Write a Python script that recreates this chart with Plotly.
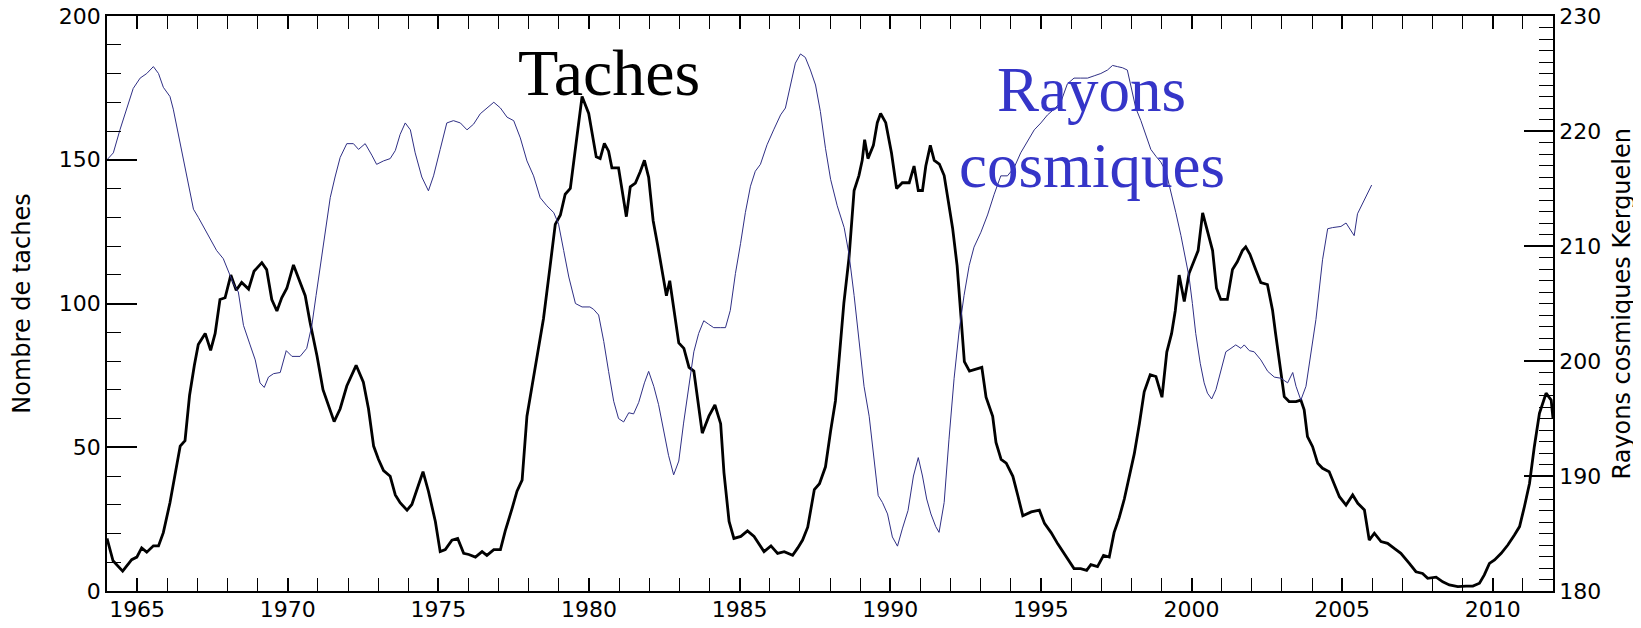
"""
plot.py - Taches solaires et rayons cosmiques (Kerguelen), 1964-2012.
"""

import plotly.graph_objects as go

# Nombre de taches (courbe noire, axe gauche)
annees_taches = [
    1964.00, 1964.20, 1964.52, 1964.82, 1964.99, 1965.15, 1965.32, 1965.54, 1965.71, 1965.87,
    1966.09, 1966.23, 1966.43, 1966.59, 1966.74, 1966.90, 1967.03, 1967.26, 1967.44, 1967.59,
    1967.75, 1967.92, 1968.11, 1968.29, 1968.47, 1968.70, 1968.88, 1969.14, 1969.30, 1969.47,
    1969.64, 1969.80, 1969.97, 1970.19, 1970.39, 1970.58, 1970.74, 1970.97, 1971.17, 1971.35,
    1971.54, 1971.74, 1971.96, 1972.27, 1972.51, 1972.68, 1972.85, 1973.01, 1973.18, 1973.40,
    1973.57, 1973.73, 1973.96, 1974.12, 1974.34, 1974.49, 1974.67, 1974.90, 1975.06, 1975.23,
    1975.45, 1975.64, 1975.84, 1976.01, 1976.23, 1976.45, 1976.61, 1976.84, 1977.06, 1977.22,
    1977.45, 1977.61, 1977.78, 1977.94, 1978.11, 1978.27, 1978.49, 1978.71, 1978.88, 1979.05,
    1979.21, 1979.38, 1979.54, 1979.77, 1979.99, 1980.24, 1980.37, 1980.51, 1980.65, 1980.76,
    1980.98, 1981.09, 1981.24, 1981.37, 1981.54, 1981.70, 1981.84, 1981.98, 1982.13, 1982.28,
    1982.43, 1982.57, 1982.68, 1982.82, 1982.98, 1983.15, 1983.32, 1983.48, 1983.65, 1983.76,
    1983.98, 1984.18, 1984.37, 1984.48, 1984.65, 1984.81, 1985.04, 1985.26, 1985.48, 1985.65,
    1985.81, 1986.04, 1986.26, 1986.48, 1986.76, 1986.93, 1987.09, 1987.26, 1987.48, 1987.65,
    1987.85, 1988.02, 1988.18, 1988.29, 1988.46, 1988.63, 1988.80, 1988.96, 1989.07, 1989.15,
    1989.26, 1989.44, 1989.57, 1989.68, 1989.85, 1990.04, 1990.21, 1990.40, 1990.63, 1990.79,
    1990.93, 1991.07, 1991.18, 1991.33, 1991.46, 1991.63, 1991.79, 1991.93, 1992.07, 1992.22,
    1992.35, 1992.46, 1992.63, 1992.85, 1993.04, 1993.18, 1993.40, 1993.51, 1993.68, 1993.85,
    1994.07, 1994.23, 1994.40, 1994.68, 1994.95, 1995.12, 1995.34, 1995.56, 1995.78, 1995.98,
    1996.10, 1996.32, 1996.52, 1996.66, 1996.88, 1997.08, 1997.27, 1997.43, 1997.60, 1997.77,
    1997.93, 1998.10, 1998.27, 1998.43, 1998.63, 1998.82, 1999.02, 1999.18, 1999.34, 1999.46,
    1999.59, 1999.76, 1999.92, 2000.09, 2000.22, 2000.37, 2000.53, 2000.70, 2000.83, 2000.97,
    2001.19, 2001.36, 2001.52, 2001.69, 2001.80, 2001.94, 2002.13, 2002.30, 2002.52, 2002.69,
    2002.79, 2002.91, 2003.08, 2003.24, 2003.47, 2003.63, 2003.74, 2003.85, 2004.02, 2004.19,
    2004.35, 2004.57, 2004.68, 2004.91, 2005.13, 2005.35, 2005.52, 2005.74, 2005.90, 2006.07,
    2006.29, 2006.51, 2006.73, 2006.95, 2007.23, 2007.45, 2007.67, 2007.84, 2008.12, 2008.34,
    2008.56, 2008.84, 2009.11, 2009.34, 2009.56, 2009.72, 2009.89, 2010.06, 2010.28, 2010.50,
    2010.72, 2010.89, 2011.05, 2011.22, 2011.38, 2011.55, 2011.77, 2011.94, 2012.00,
]
taches = [
    18.3, 10.5, 6.9, 10.9, 11.8, 15.0, 13.5, 15.7, 15.7, 20.3,
    30.7, 39.2, 50.4, 52.3, 68.0, 78.5, 85.7, 89.6, 83.7, 89.6,
    101.4, 102.0, 109.9, 104.6, 107.3, 105.0, 111.2, 114.2, 111.8, 101.4,
    97.4, 102.0, 105.3, 113.4, 107.9, 102.7, 93.5, 81.8, 70.0, 64.7,
    58.9, 63.4, 71.3, 78.5, 72.6, 63.4, 50.4, 45.8, 41.9, 39.9,
    33.4, 30.7, 28.1, 30.1, 36.6, 41.5, 34.7, 24.2, 13.7, 14.4,
    17.7, 18.3, 13.1, 12.7, 11.8, 13.7, 12.4, 14.4, 14.4, 20.9,
    28.8, 34.7, 38.6, 60.8, 71.3, 81.8, 94.8, 113.1, 127.5, 130.8,
    138.0, 140.0, 153.7, 172.0, 166.1, 151.0, 150.4, 155.7, 153.0, 147.2,
    147.2, 139.3, 130.2, 140.6, 141.9, 145.8, 149.8, 143.9, 128.8, 120.3,
    111.8, 102.7, 107.9, 97.4, 86.3, 84.4, 77.8, 76.5, 63.4, 54.9,
    60.8, 64.7, 58.2, 41.2, 24.2, 18.3, 19.0, 20.9, 19.0, 16.4,
    13.7, 15.7, 13.1, 13.7, 12.4, 15.0, 17.7, 22.2, 35.3, 37.3,
    43.2, 55.6, 66.1, 79.1, 100.1, 115.8, 139.3, 144.5, 149.8, 157.0,
    150.4, 155.0, 162.9, 166.1, 162.9, 152.4, 140.0, 142.0, 142.0, 147.8,
    139.3, 139.3, 147.8, 155.0, 149.8, 148.5, 144.5, 135.4, 126.2, 113.1,
    94.8, 79.8, 76.5, 77.2, 77.8, 67.4, 60.8, 51.7, 45.8, 44.5,
    39.9, 33.4, 26.2, 27.5, 28.1, 23.5, 20.3, 16.4, 13.0, 9.5,
    7.8, 7.8, 7.2, 9.2, 8.5, 12.4, 11.8, 20.3, 25.5, 32.0,
    39.9, 47.7, 58.2, 69.3, 75.2, 74.6, 67.4, 83.1, 89.6, 97.4,
    109.9, 100.7, 110.5, 115.1, 118.4, 131.5, 125.6, 118.4, 105.3, 101.4,
    101.4, 111.8, 114.5, 118.4, 119.7, 117.1, 111.8, 107.3, 106.6, 97.7,
    89.6, 80.3, 67.6, 65.9, 65.9, 66.4, 63.0, 53.7, 50.2, 44.4,
    42.7, 41.5, 38.6, 32.8, 29.9, 33.4, 30.5, 28.2, 17.7, 20.1,
    17.2, 16.6, 14.8, 13.1, 9.6, 6.7, 6.1, 4.4, 4.8, 3.2,
    2.1, 1.5, 1.7, 1.7, 2.7, 5.6, 9.6, 10.8, 13.1, 16.0,
    19.5, 22.4, 29.3, 37.4, 50.2, 61.8, 68.8, 66.4, 60.0,
]

# Rayons cosmiques Kerguelen (courbe bleue, axe droit)
annees_rayons = [
    1964.00, 1964.21, 1964.43, 1964.65, 1964.87, 1965.10, 1965.32, 1965.54, 1965.71, 1965.87,
    1966.09, 1966.20, 1966.37, 1966.54, 1966.70, 1966.87, 1967.03, 1967.20, 1967.42, 1967.64,
    1967.86, 1968.03, 1968.20, 1968.36, 1968.53, 1968.75, 1968.92, 1969.08, 1969.22, 1969.36,
    1969.53, 1969.75, 1969.95, 1970.14, 1970.41, 1970.63, 1970.80, 1970.94, 1971.08, 1971.24,
    1971.41, 1971.57, 1971.74, 1971.96, 1972.18, 1972.35, 1972.57, 1972.79, 1972.95, 1973.18,
    1973.40, 1973.57, 1973.73, 1973.90, 1974.07, 1974.23, 1974.45, 1974.67, 1974.84, 1975.06,
    1975.28, 1975.50, 1975.73, 1975.95, 1976.17, 1976.39, 1976.61, 1976.84, 1977.06, 1977.28,
    1977.50, 1977.72, 1977.94, 1978.16, 1978.38, 1978.60, 1978.83, 1978.99, 1979.16, 1979.33,
    1979.55, 1979.77, 1980.03, 1980.15, 1980.32, 1980.49, 1980.65, 1980.82, 1980.98, 1981.15,
    1981.32, 1981.48, 1981.65, 1981.84, 1981.98, 1982.15, 1982.31, 1982.48, 1982.64, 1982.81,
    1982.98, 1983.14, 1983.31, 1983.48, 1983.64, 1983.81, 1983.97, 1984.14, 1984.36, 1984.53,
    1984.69, 1984.86, 1985.03, 1985.19, 1985.36, 1985.52, 1985.69, 1985.91, 1986.13, 1986.36,
    1986.52, 1986.69, 1986.85, 1987.02, 1987.18, 1987.35, 1987.52, 1987.68, 1987.85, 1988.02,
    1988.24, 1988.47, 1988.63, 1988.80, 1988.96, 1989.13, 1989.30, 1989.46, 1989.60, 1989.74,
    1989.91, 1990.07, 1990.24, 1990.40, 1990.59, 1990.77, 1990.93, 1991.07, 1991.21, 1991.35,
    1991.51, 1991.62, 1991.79, 1991.95, 1992.12, 1992.29, 1992.45, 1992.62, 1992.78, 1993.01,
    1993.23, 1993.45, 1993.67, 1993.89, 1994.11, 1994.33, 1994.56, 1994.78, 1995.00, 1995.22,
    1995.44, 1995.66, 1995.88, 1996.10, 1996.32, 1996.55, 1996.77, 1996.99, 1997.21, 1997.38,
    1997.54, 1997.71, 1997.87, 1997.99, 1998.15, 1998.32, 1998.48, 1998.65, 1998.82, 1998.98,
    1999.15, 1999.31, 1999.48, 1999.65, 1999.78, 1999.92, 2000.03, 2000.14, 2000.29, 2000.42,
    2000.53, 2000.67, 2000.81, 2000.98, 2001.14, 2001.31, 2001.47, 2001.64, 2001.75, 2001.92,
    2002.08, 2002.30, 2002.53, 2002.75, 2002.97, 2003.19, 2003.36, 2003.47, 2003.63, 2003.80,
    2003.95, 2004.13, 2004.35, 2004.52, 2004.68, 2004.96, 2005.13, 2005.29, 2005.40, 2005.51,
    2005.68, 2005.85, 2005.98,
]
rayons = [
    217.5, 218.1, 220.1, 221.9, 223.7, 224.6, 225.0, 225.6, 225.0, 223.8,
    223.0, 221.9, 219.7, 217.4, 215.2, 213.2, 212.5, 211.7, 210.6, 209.6,
    208.9, 207.8, 206.7, 206.0, 203.1, 201.4, 200.1, 198.1, 197.7, 198.6,
    198.9, 199.0, 200.9, 200.4, 200.4, 201.1, 203.1, 205.7, 208.3, 211.2,
    214.2, 216.0, 217.7, 218.9, 218.9, 218.4, 218.9, 217.9, 217.1, 217.4,
    217.6, 218.3, 219.7, 220.7, 220.1, 218.1, 216.0, 214.8, 216.1, 218.4,
    220.7, 220.9, 220.7, 220.1, 220.6, 221.5, 222.0, 222.5, 222.0, 221.2,
    220.9, 219.4, 217.4, 216.1, 214.2, 213.5, 212.9, 211.9, 209.6, 207.3,
    205.0, 204.7, 204.7, 204.5, 204.0, 201.7, 199.1, 196.5, 195.0, 194.7,
    195.5, 195.4, 196.4, 198.1, 199.1, 197.8, 196.2, 193.9, 191.8, 190.1,
    191.3, 194.6, 197.8, 200.8, 202.4, 203.5, 203.2, 202.9, 202.9, 202.9,
    204.4, 207.6, 210.2, 212.9, 215.2, 216.5, 217.1, 218.8, 220.1, 221.4,
    222.0, 224.0, 225.9, 226.7, 226.4, 225.3, 224.0, 221.7, 218.5, 215.8,
    213.5, 211.6, 209.3, 205.7, 201.7, 197.8, 195.2, 191.3, 188.3, 187.7,
    186.7, 184.7, 183.9, 185.4, 187.0, 190.0, 191.6, 190.0, 188.0, 186.7,
    185.6, 185.1, 187.7, 193.2, 198.5, 202.7, 205.7, 208.3, 209.9, 211.2,
    212.7, 214.5, 216.1, 216.1, 216.8, 218.1, 219.1, 220.1, 220.7, 221.4,
    221.9, 222.5, 224.1, 224.6, 224.6, 224.6, 224.8, 225.0, 225.3, 225.7,
    225.6, 225.5, 225.3, 224.0, 222.0, 220.9, 219.7, 218.4, 217.8, 217.3,
    216.5, 214.8, 212.9, 210.9, 209.3, 207.3, 205.0, 202.4, 199.8, 198.1,
    197.2, 196.7, 197.5, 199.1, 200.8, 201.1, 201.4, 201.1, 201.4, 200.9,
    200.8, 200.1, 199.1, 198.6, 198.5, 198.1, 199.0, 197.8, 196.6, 197.8,
    200.5, 203.6, 208.8, 211.5, 211.6, 211.7, 212.0, 211.4, 210.9, 212.8,
    213.7, 214.6, 215.3,
]

annees_ticks = [1965, 1970, 1975, 1980, 1985, 1990, 1995, 2000, 2005, 2010]

POLICE_AXE = "DejaVu Sans"
POLICE_TEXTE = "Liberation Serif"
BLEU_TEXTE = "#3535c8"
BLEU_LIGNE = "#2f2f85"

fig = go.Figure()
fig.add_trace(go.Scatter(
    x=annees_rayons, y=rayons, mode="lines", yaxis="y2",
    line=dict(color=BLEU_LIGNE, width=1), name="Rayons cosmiques",
))
fig.add_trace(go.Scatter(
    x=annees_taches, y=taches, mode="lines",
    line=dict(color="black", width=2.8), name="Taches",
))

# étiquettes des courbes, centrées (sinon plotly ancre à droite/en haut)
for texte, px_x, px_y, taille, couleur in [
    ("Taches", 0.3475, 0.901, 66, "black"),
    ("Rayons", 0.681, 0.871, 63, BLEU_TEXTE),
    ("cosmiques", 0.681, 0.740, 63, BLEU_TEXTE),
]:
    fig.add_annotation(text=texte, x=px_x, y=px_y, xref="paper", yref="paper",
                       xanchor="center", yanchor="middle", showarrow=False,
                       font=dict(family=POLICE_TEXTE, size=taille, color=couleur))

# titre de l'axe droit en annotation (le standoff ne se règle pas bien sans automargin)
fig.add_annotation(text="Rayons cosmiques Kerguelen", x=1.0477, y=0.5,
                   xref="paper", yref="paper", xanchor="center", yanchor="middle",
                   textangle=-90, showarrow=False,
                   font=dict(family=POLICE_AXE, size=24, color="black"))

# la page html a une marge de 8 px autour : figure plus petite et décalée d'autant
fig.update_layout(
    width=1625, height=612,
    margin=dict(l=99, r=80, t=8, b=29),
    paper_bgcolor="white", plot_bgcolor="white",
    showlegend=False,
    xaxis=dict(
        range=[1964, 2012], tickvals=annees_ticks, automargin=False,
        ticks="inside", ticklen=13, tickwidth=1.5, tickcolor="black",
        minor=dict(dtick=1, ticks="inside", ticklen=6, tickwidth=1.2, tickcolor="black"),
        showline=True, linecolor="black", linewidth=1.5, mirror="allticks",
        showgrid=False, zeroline=False, ticklabelstandoff=-2,
        ticklabeloverflow="allow",
        tickfont=dict(family=POLICE_AXE, size=22, color="black"),
    ),
    yaxis=dict(
        range=[0, 200], tickvals=[0, 50, 100, 150, 200], automargin=False,
        ticks="inside", ticklen=30, tickwidth=1.5, tickcolor="black",
        minor=dict(dtick=10, ticks="inside", ticklen=14, tickwidth=1.2, tickcolor="black"),
        showline=True, linecolor="black", linewidth=1.5, mirror=True,
        showgrid=False, zeroline=False, ticklabeloverflow="allow",
        tickfont=dict(family=POLICE_AXE, size=22, color="black"),
        title=dict(text="Nombre de taches", standoff=29,
                   font=dict(family=POLICE_AXE, size=24, color="black")),
    ),
    yaxis2=dict(
        range=[180, 230], tickvals=[180, 190, 200, 210, 220, 230], automargin=False,
        overlaying="y", side="right",
        ticks="inside", ticklen=29, tickwidth=1.5, tickcolor="black",
        minor=dict(dtick=1, ticks="inside", ticklen=14, tickwidth=1.2, tickcolor="black"),
        showline=True, linecolor="black", linewidth=1.5,
        showgrid=False, zeroline=False, ticklabeloverflow="allow",
        tickfont=dict(family=POLICE_AXE, size=22, color="black"),
    ),
)

fig.write_html("out.html")
